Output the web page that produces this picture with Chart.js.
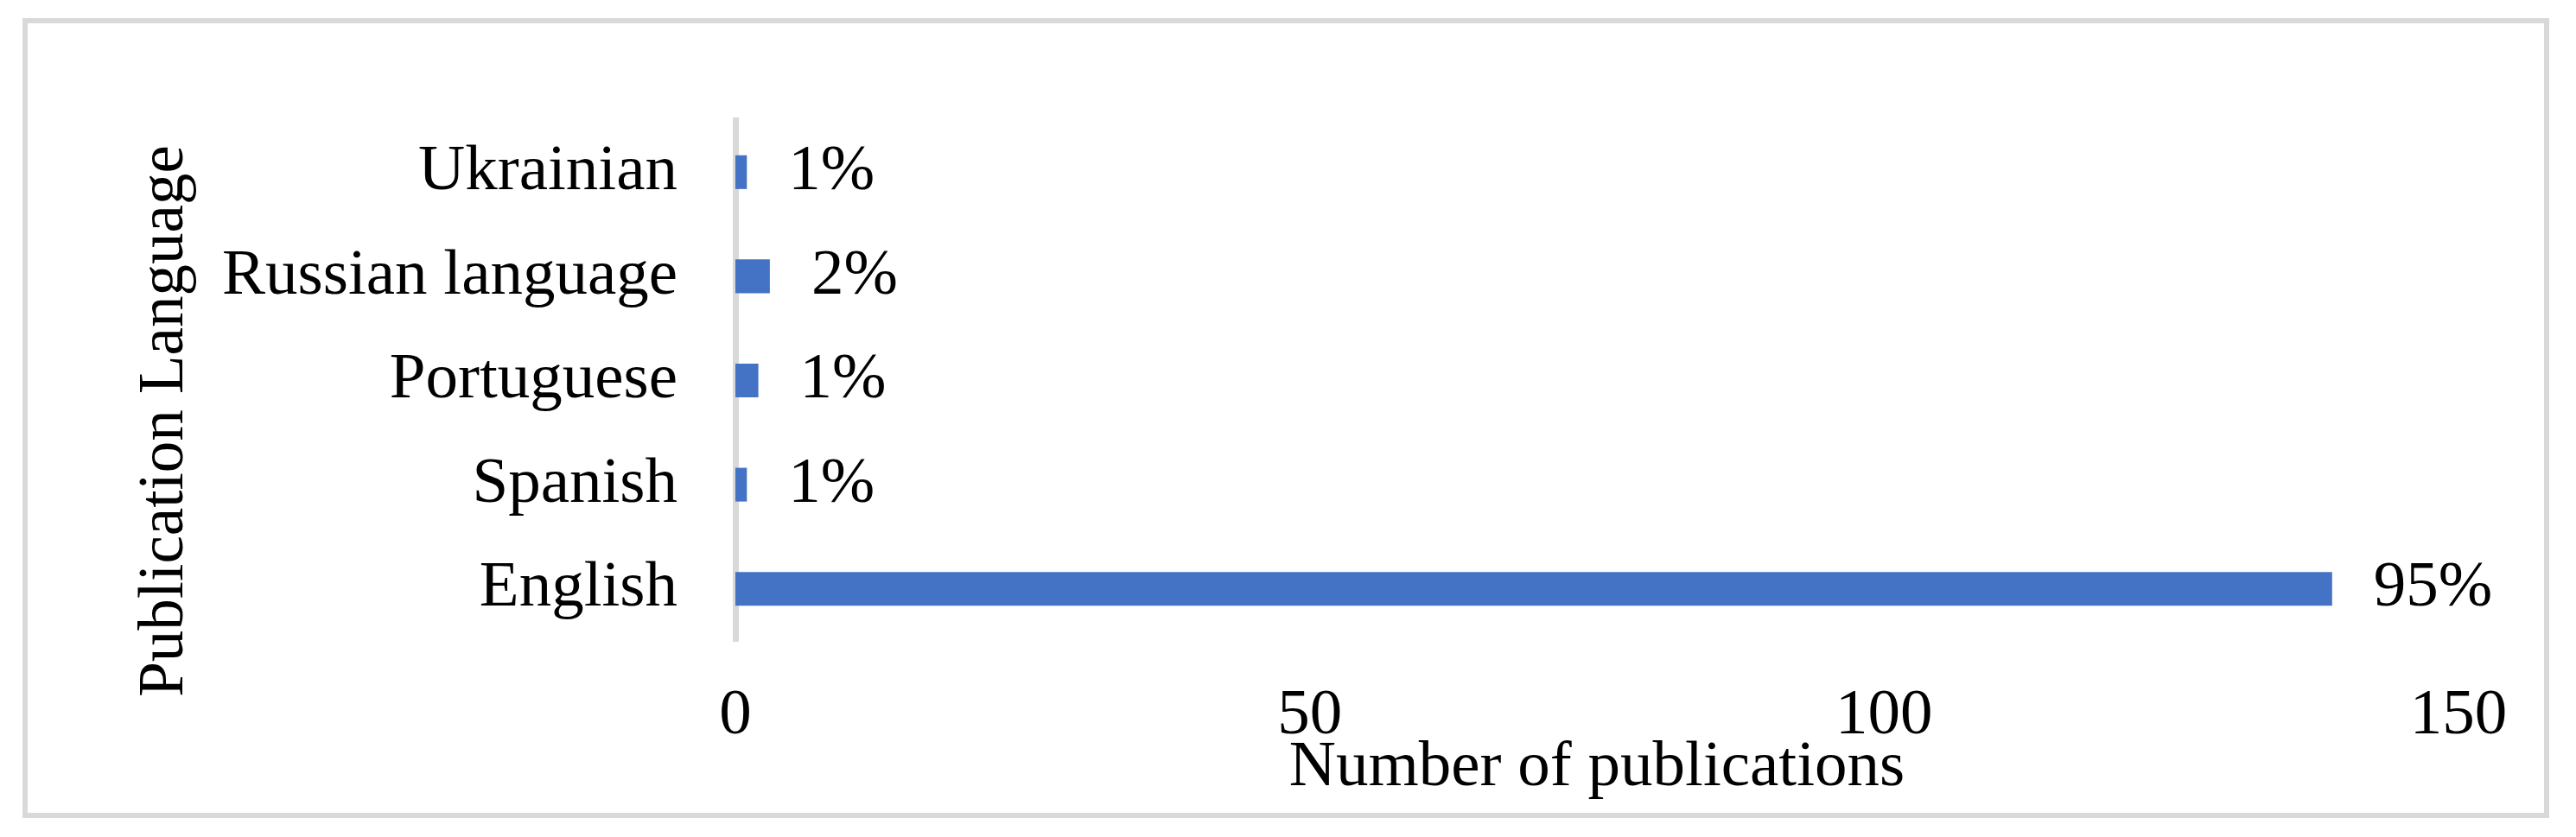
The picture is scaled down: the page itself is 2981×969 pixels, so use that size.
<!DOCTYPE html>
<html>
<head>
<meta charset="utf-8">
<script src="https://cdn.jsdelivr.net/npm/chart.js@4.4.1/dist/chart.umd.min.js"></script>
<style>
  body { margin: 0; background: #fff; }
  #frame {
    position: absolute; left: 26px; top: 21px;
    width: 2912px; height: 914px;
    border: 6px solid #d9d9d9; background: #fff;
  }
  canvas { display: block; }
</style>
</head>
<body>
<div id="frame"><canvas id="chart" width="2912" height="914"></canvas></div>
<script>
// data, bottom to top as in the original sheet
const languages = ["English", "Spanish", "Portuguese", "Russian language", "Ukrainian"];
const publications = [139, 1, 2, 3, 1];
const shareLabels = ["95%", "1%", "1%", "2%", "1%"];
const xTicks = [0, 50, 100, 150];

const FONT = "'Liberation Serif', 'Times New Roman', serif";
const SIZE = 75;

// percent labels to the right of each bar
const barLabels = {
  id: "barLabels",
  afterDatasetsDraw(chart) {
    const ctx = chart.ctx;
    const meta = chart.getDatasetMeta(0);
    ctx.save();
    ctx.font = SIZE + "px " + FONT;
    ctx.fillStyle = "#000";
    ctx.textAlign = "left";
    ctx.textBaseline = "middle";
    meta.data.forEach((bar, i) => {
      ctx.fillText(shareLabels[i], bar.x + 48, bar.y);
    });
    ctx.restore();
  }
};

// rotated y axis title, sits a bit lower than the plot centre like the original
const yTitle = {
  id: "yTitle",
  afterDraw(chart) {
    const ctx = chart.ctx;
    const area = chart.chartArea;
    ctx.save();
    ctx.translate(160, (area.top + area.bottom) / 2 + 47);
    ctx.rotate(-Math.PI / 2);
    ctx.font = "73px " + FONT;
    ctx.fillStyle = "#000";
    ctx.textAlign = "center";
    ctx.textBaseline = "middle";
    ctx.fillText("Publication Language", 0, 0);
    ctx.restore();
  }
};

new Chart(document.getElementById("chart"), {
  type: "bar",
  data: {
    labels: languages,
    datasets: [{
      data: publications,
      backgroundColor: "#4472c4",
      borderWidth: 0,
      categoryPercentage: 1,
      barPercentage: 0.324
    }]
  },
  options: {
    indexAxis: "y",
    responsive: false,
    devicePixelRatio: 1,
    animation: false,
    layout: { padding: { top: 97, right: 99, bottom: 7, left: 0 } },
    plugins: {
      legend: { display: false },
      tooltip: { enabled: false }
    },
    scales: {
      x: {
        type: "linear",
        min: 0,
        max: 150,
        afterBuildTicks(scale) {
          scale.ticks = xTicks.map(v => ({ value: v }));
        },
        grid: { display: false, drawTicks: false },
        border: { display: false },
        ticks: {
          padding: 42,
          maxRotation: 0,
          autoSkip: false,
          color: "#000",
          font: { family: FONT, size: SIZE }
        },
        title: {
          display: true,
          text: "Number of publications",
          color: "#000",
          padding: { top: 0, bottom: 0 },
          font: { family: FONT, size: SIZE }
        },
        afterFit(scale) { scale.height = 192; }
      },
      y: {
        reverse: true,
        z: 1,
        grid: { display: false, drawTicks: false },
        border: { display: true, color: "#d9d9d9", width: 7 },
        ticks: {
          padding: 67,
          color: "#000",
          font: { family: FONT, size: SIZE }
        },
        afterFit(scale) { scale.width = 819; }
      }
    }
  },
  plugins: [barLabels, yTitle]
});
</script>
</body>
</html>
